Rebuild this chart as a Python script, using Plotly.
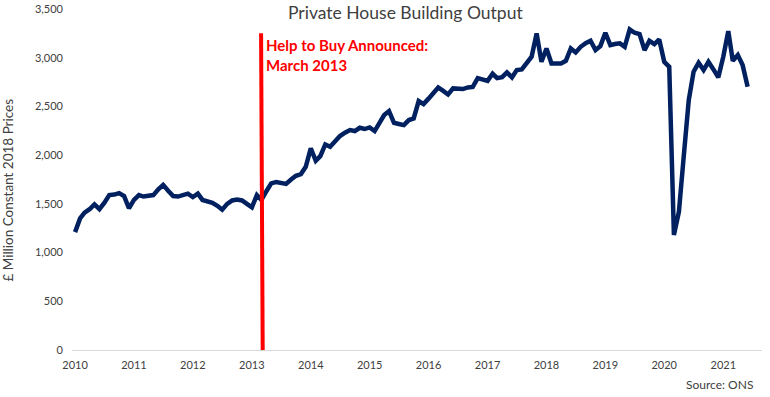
import pandas as pd
import plotly.graph_objects as go

# Monthly private house building output, £ million constant 2018 prices (Jan 2010 - Jun 2021)
values_2010 = [1210, 1350, 1410, 1445, 1495, 1445, 1510, 1590, 1595, 1610, 1580, 1455]
values_2011 = [1540, 1590, 1575, 1585, 1590, 1650, 1695, 1635, 1580, 1575, 1595, 1605]
values_2012 = [1570, 1605, 1540, 1525, 1510, 1480, 1440, 1500, 1535, 1545, 1535, 1500]
values_2013 = [1465, 1590, 1540, 1630, 1710, 1725, 1710, 1705, 1750, 1788, 1806, 1881]
values_2014 = [2069, 1942, 1990, 2110, 2086, 2150, 2196, 2230, 2257, 2247, 2281, 2268]
values_2015 = [2285, 2247, 2330, 2411, 2452, 2332, 2320, 2308, 2360, 2377, 2555, 2524]
values_2016 = [2580, 2640, 2695, 2660, 2623, 2685, 2680, 2678, 2695, 2700, 2790, 2780]
values_2017 = [2763, 2835, 2790, 2800, 2850, 2798, 2873, 2880, 2941, 3010, 3249, 2958]
values_2018 = [3095, 2941, 2941, 2941, 2968, 3095, 3054, 3112, 3150, 3174, 3078, 3119]
values_2019 = [3256, 3129, 3140, 3147, 3112, 3290, 3256, 3242, 3078, 3174, 3140, 3188]
values_2020 = [2958, 2907, 1180, 1419, 1990, 2565, 2856, 2948, 2873, 2958, 2880, 2798]
values_2021 = [3010, 3273, 2968, 3027, 2924, 2702]

output = (values_2010 + values_2011 + values_2012 + values_2013 + values_2014 + values_2015
          + values_2016 + values_2017 + values_2018 + values_2019 + values_2020 + values_2021)
months = pd.date_range("2010-01-01", periods=len(output), freq="MS")

year_ticks = pd.date_range("2010-01-01", "2021-01-01", freq="YS")
year_labels = [str(d.year) for d in year_ticks]
y_ticks = [0, 500, 1000, 1500, 2000, 2500, 3000, 3500]

htb_date = pd.Timestamp("2013-03-01")
htb_line_top = 3250
htb_label = "Help to Buy Announced:<br>March 2013"

FONT = "Lato, 'DejaVu Sans', sans-serif"
GREY = "#404040"

fig = go.Figure()
fig.add_trace(go.Scatter(
    x=months, y=output, mode="lines",
    line=dict(color="#002060", width=4.5),
    hoverinfo="skip", showlegend=False,
))

fig.add_shape(type="line", xref="x", yref="y",
              x0=htb_date + pd.Timedelta(days=8), y0=0,
              x1=htb_date - pd.Timedelta(days=2), y1=htb_line_top,
              line=dict(color="#FF0000", width=4))

fig.add_annotation(xref="x", yref="y", x=htb_date, y=3240, xshift=3,
                   xanchor="left", yanchor="top", showarrow=False, align="left",
                   text=f"<b>{htb_label}</b>",
                   font=dict(family=FONT, size=15, color="#FF0000"))

fig.add_annotation(xref="paper", yref="paper", x=0.484, y=0.991,
                   xanchor="center", yanchor="middle", showarrow=False,
                   text="Private House Building Output",
                   font=dict(family=FONT, size=17.5, color=GREY))

fig.add_annotation(xref="paper", yref="paper", x=-0.093, y=0.47,
                   xanchor="center", yanchor="middle", showarrow=False, textangle=-90,
                   text="£ Million Constant 2018 Prices",
                   font=dict(family=FONT, size=13.5, color=GREY))

fig.add_annotation(xref="paper", yref="paper", x=0.99, y=-0.1,
                   xanchor="right", yanchor="middle", showarrow=False,
                   text="Source: ONS",
                   font=dict(family=FONT, size=12, color=GREY))

fig.update_layout(
    width=770, height=397,
    margin=dict(l=72, r=8, t=9, b=47, autoexpand=False),
    paper_bgcolor="white", plot_bgcolor="white",
    font=dict(family=FONT, size=11, color=GREY),
    xaxis=dict(
        range=[pd.Timestamp("2009-12-13"), pd.Timestamp("2021-08-29")],
        tickmode="array", tickvals=year_ticks, ticktext=year_labels,
        showgrid=False, zeroline=False, showline=True, linecolor="#d9d9d9", linewidth=1,
        ticks="", ticklabelstandoff=5, tickfont=dict(size=11, color=GREY), automargin=False,
    ),
    yaxis=dict(
        range=[0, 3500], tickmode="array", tickvals=y_ticks,
        tickformat=",", showgrid=False, zeroline=False, showline=False,
        ticks="", ticklabelstandoff=8, tickfont=dict(size=11, color=GREY),
        automargin=False,
    ),
)

fig.write_html("out.html", config={"displayModeBar": False},
               post_script="document.body.style.margin='0';document.body.style.overflow='hidden';")
